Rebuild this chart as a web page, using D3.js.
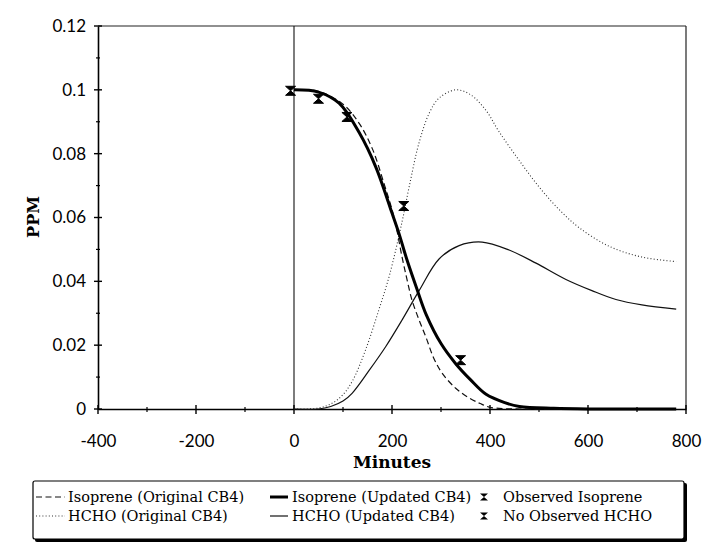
<!DOCTYPE html>
<html><head><meta charset="utf-8">
<script src="https://cdn.jsdelivr.net/npm/d3@7"></script>
<style>body{margin:0;background:#fff}svg{display:block}</style>
</head><body>
<svg id="c" width="719" height="550"></svg>
<script>
// ---- data ----
const xTicks = [-400,-200,0,200,400,600,800];
const xMinor = [-300,-100,100,300,500,700];
const yTicks = [0,0.02,0.04,0.06,0.08,0.1,0.12];
const yMinor = [0.01,0.03,0.05,0.07,0.09,0.11];

const isoOrigT = [0,50,100,133,160,185,200,210,220,230,241,255,270,285,302,330,357,380,398,430,480,780];
const isoOrigV = [0.1,0.0995,0.0955,0.0895,0.0815,0.07,0.0625,0.056,0.048,0.041,0.034,0.028,0.0222,0.016,0.0113,0.0065,0.0035,0.0017,0.0006,0.0001,0,0];

const isoUpdT = [0,50,92,133,167,200,214,230,250,270,300,330,360,392,430,460,530,600,780];
const isoUpdV = [0.1,0.0993,0.0958,0.0866,0.0758,0.0614,0.0551,0.047,0.038,0.0295,0.0205,0.0142,0.0092,0.0046,0.002,0.0008,0.0002,0,0];

const hchoOrigT = [0,50,80,100,120,146,173,195,221,235,255,276,296,330,360,392,418,459,500,541,582,643,710,780];
const hchoOrigV = [0,0.0003,0.002,0.0045,0.009,0.0185,0.031,0.042,0.059,0.0696,0.0833,0.0927,0.0974,0.1,0.0985,0.0935,0.087,0.078,0.0696,0.0625,0.0568,0.051,0.0476,0.0462];

const hchoUpdT = [0,50,75,100,119,153,187,221,255,296,337,384,439,494,555,608,657,710,780];
const hchoUpdV = [0,0,0.0008,0.0025,0.005,0.012,0.0195,0.028,0.037,0.047,0.0512,0.0523,0.0498,0.0457,0.0406,0.0371,0.0343,0.0326,0.0313];

const obsT = [-7,50,108,224,340];
const obsV = [0.0997,0.0972,0.0915,0.0636,0.0153];

const legendLabels = ["Isoprene (Original CB4)","Isoprene (Updated CB4)","Observed Isoprene",
                      "HCHO (Original CB4)","HCHO (Updated CB4)","No Observed HCHO"];

// ---- layout ----
const svg = d3.select("#c");
const L = 98, R = 686, T = 26, B = 409;
const x = d3.scaleLinear().domain([-400,800]).range([L,R]);
const y = d3.scaleLinear().domain([0,0.12]).range([B,T]);
const tickFont = "Lato, 'Open Sans', sans-serif";
const serif = "'DejaVu Serif', serif";

// frame top & right
svg.append("line").attr("x1",L).attr("x2",R).attr("y1",T).attr("y2",T).attr("stroke","#222").attr("stroke-width",1.2);
svg.append("line").attr("x1",R).attr("x2",R).attr("y1",T).attr("y2",B).attr("stroke","#222").attr("stroke-width",1.2);
// vertical line at x=0
svg.append("line").attr("x1",x(0)).attr("x2",x(0)).attr("y1",T).attr("y2",B).attr("stroke","#111").attr("stroke-width",1.1);

// axes
const gx = svg.append("g").attr("transform",`translate(0,${B})`)
  .call(d3.axisBottom(x).tickValues(xTicks).tickSize(0).tickPadding(26).tickFormat(d=>String(d)));
gx.select(".domain").attr("stroke","#000").attr("stroke-width",1.6);
gx.selectAll("text").attr("font-family",tickFont).attr("font-size",17).attr("fill","#000");
const gy = svg.append("g").attr("transform",`translate(${L},0)`)
  .call(d3.axisLeft(y).tickValues(yTicks).tickSize(0).tickPadding(12).tickFormat(d=>d===0?"0":String(+d.toFixed(2))));
gy.select(".domain").attr("stroke","#000").attr("stroke-width",1.6);
gy.selectAll("text").attr("font-family",tickFont).attr("font-size",17).attr("fill","#000");

// crossing ticks
svg.append("g").selectAll("line").data(xTicks).join("line")
  .attr("x1",d=>x(d)).attr("x2",d=>x(d)).attr("y1",B-4).attr("y2",B+5).attr("stroke","#000").attr("stroke-width",1.4);
svg.append("g").selectAll("line").data(xMinor).join("line")
  .attr("x1",d=>x(d)).attr("x2",d=>x(d)).attr("y1",B-2).attr("y2",B+3).attr("stroke","#000").attr("stroke-width",1.2);
svg.append("g").selectAll("line").data(yTicks).join("line")
  .attr("x1",L-4).attr("x2",L+4).attr("y1",d=>y(d)).attr("y2",d=>y(d)).attr("stroke","#000").attr("stroke-width",1.4);
svg.append("g").selectAll("line").data(yMinor).join("line")
  .attr("x1",L-2).attr("x2",L+2).attr("y1",d=>y(d)).attr("y2",d=>y(d)).attr("stroke","#000").attr("stroke-width",1.2);

// axis titles
svg.append("text").attr("x",(L+R)/2).attr("y",468).attr("text-anchor","middle")
  .attr("font-family",serif).attr("font-weight","bold").attr("font-size",17).text("Minutes");
svg.append("text").attr("transform","translate(39,217) rotate(-90)").attr("text-anchor","middle")
  .attr("font-family",serif).attr("font-weight","bold").attr("font-size",16).text("PPM");

// series
const line = d3.line().x(d=>x(d[0])).y(d=>y(d[1])).curve(d3.curveCatmullRom.alpha(0.5));
const zip = (a,b)=>a.map((t,i)=>[t,b[i]]);
const styles = {
  isoOrig:{w:1.2,dash:"6,3.5",c:"#111"},
  isoUpd:{w:3,dash:null,c:"#000"},
  hchoOrig:{w:1.1,dash:"1,2.2",c:"#333"},
  hchoUpd:{w:1.2,dash:null,c:"#111"}
};
const series = [
  ["hchoOrig",zip(hchoOrigT,hchoOrigV)],
  ["hchoUpd",zip(hchoUpdT,hchoUpdV)],
  ["isoOrig",zip(isoOrigT,isoOrigV)],
  ["isoUpd",zip(isoUpdT,isoUpdV)]
];
svg.append("g").selectAll("path").data(series).join("path")
  .attr("d",d=>line(d[1])).attr("fill","none")
  .attr("stroke",d=>styles[d[0]].c).attr("stroke-width",d=>styles[d[0]].w)
  .attr("stroke-dasharray",d=>styles[d[0]].dash);

// hourglass marker
const hg = s => `M${-s},${-s*0.9}H${s}L0,0Z M${-s},${s*0.9}H${s}L0,0Z`;
svg.append("g").selectAll("path").data(zip(obsT,obsV)).join("path")
  .attr("transform",d=>`translate(${x(d[0])},${y(d[1])})`)
  .attr("d",hg(5)).attr("fill","#000").attr("stroke","#000").attr("stroke-width",1);

// legend
const lg = svg.append("g");
lg.append("rect").attr("x",35).attr("y",483).attr("width",652).attr("height",59).attr("rx",2).attr("fill","#000");
lg.append("rect").attr("x",33).attr("y",481).attr("width",651).attr("height",58).attr("rx",2)
  .attr("fill","#fff").attr("stroke","#000").attr("stroke-width",1.2);
const rows = [497,516];
const sampleDefs = [
  {key:"isoOrig",x1:36,x2:65,row:0},{key:"isoUpd",x1:270,x2:288,row:0},
  {key:"hchoOrig",x1:36,x2:65,row:1},{key:"hchoUpd",x1:270,x2:288,row:1}
];
lg.selectAll("line.s").data(sampleDefs).join("line")
  .attr("x1",d=>d.x1).attr("x2",d=>d.x2).attr("y1",d=>rows[d.row]).attr("y2",d=>rows[d.row])
  .attr("stroke",d=>styles[d.key].c).attr("stroke-width",d=>styles[d.key].w)
  .attr("stroke-dasharray",d=>styles[d.key].dash);
lg.selectAll("path.m").data(rows).join("path")
  .attr("transform",d=>`translate(484,${d})`).attr("d",hg(4)).attr("fill","#000");
const textX = [68,292,503];
lg.selectAll("text").data(legendLabels).join("text")
  .attr("x",(d,i)=>textX[i%3]).attr("y",(d,i)=>rows[Math.floor(i/3)]+5)
  .attr("font-family",serif).attr("font-size",14.5).text(d=>d);
</script>
</body></html>
